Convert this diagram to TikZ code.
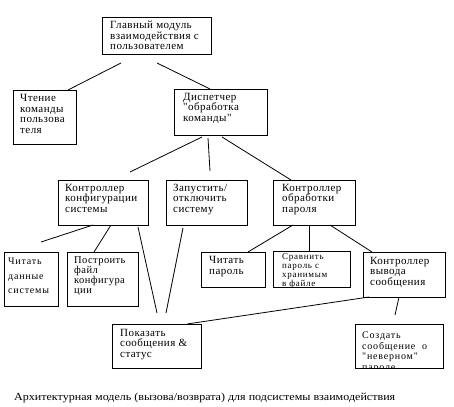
\documentclass[tikz,border=0pt]{standalone}
\usepackage{fontspec}
\setmainfont{Liberation Serif}
\newfontfamily\bigf[LetterSpace=4]{Liberation Serif}
\newfontfamily\smallf[LetterSpace=8]{Liberation Serif}
\usetikzlibrary{calc}
\begin{document}
\begin{tikzpicture}[x=1pt,y=-1pt,
  box/.style={draw=black, line width=0.9pt, rectangle, inner sep=0pt, outer sep=0pt, anchor=north west},
  txt/.style={anchor=north west, inner sep=0pt, align=left, font=\bigf\fontsize{11}{10.5}\selectfont},
  stxt/.style={anchor=north west, inner sep=0pt, align=left, font=\smallf\fontsize{10}{9.5}\selectfont},
  conn/.style={line width=0.8pt, black}]
\useasboundingbox (0,0) rectangle (454,406);
% boxes
\node[box, minimum width=109pt, minimum height=37pt] (main) at (102,17) {};
\node[txt] (maint) at ([xshift=8pt,yshift=-4pt]main.north west) {Главный модуль\\взаимодействия с\\пользователем};
\node[box, minimum width=63pt, minimum height=54pt] (chten) at (13,90) {};
\node[txt, font=\bigf\fontsize{11}{10.7}\selectfont] (chtent) at ([xshift=7pt,yshift=-4pt]chten.north west) {Чтение\\команды\\пользова\\теля};
\node[box, minimum width=93pt, minimum height=46pt] (disp) at (174,89) {};
\node[txt] (dispt) at ([xshift=9pt,yshift=-4pt]disp.north west) {Диспетчер\\"обработка\\команды"};
\node[box, minimum width=90pt, minimum height=45pt] (konf) at (58,180) {};
\node[txt] (konft) at ([xshift=7pt,yshift=-4pt]konf.north west) {Контроллер\\конфигурации\\системы};
\node[box, minimum width=81pt, minimum height=45pt] (zap) at (166,180) {};
\node[txt] (zapt) at ([xshift=7pt,yshift=-4pt]zap.north west) {Запустить/\\отключить\\систему};
\node[box, minimum width=82pt, minimum height=45pt] (parol) at (273,180) {};
\node[txt] (parolt) at ([xshift=9pt,yshift=-4pt]parol.north west) {Контроллер\\обработки\\пароля};
\node[box, minimum width=54pt, minimum height=54pt] (chdan) at (4,252) {};
\node[stxt, font=\smallf\fontsize{10}{14.5}\selectfont] (chdant) at ([xshift=4pt,yshift=-6pt]chdan.north west) {Читать\\данные\\системы};
\node[box, minimum width=71pt, minimum height=54pt] (postr) at (67,252) {};
\node[txt, font=\bigf\fontsize{10.5}{10}\selectfont] (postrt) at ([xshift=7pt,yshift=-4pt]postr.north west) {Построить\\файл\\конфигура\\ции};
\node[box, minimum width=64pt, minimum height=35pt] (chpar) at (201,252) {};
\node[txt, font=\bigf\fontsize{11}{10.7}\selectfont] (chpart) at ([xshift=8pt,yshift=-4pt]chpar.north west) {Читать\\пароль};
\node[box, minimum width=77pt, minimum height=36pt] (sravn) at (273,251) {};
\node[stxt, font=\smallf\fontsize{9}{9}\selectfont] (sravnt) at ([xshift=9pt,yshift=-2pt]sravn.north west) {Сравнить\\пароль с\\хранимым\\в файле};
\node[box, minimum width=82pt, minimum height=45pt] (vyvod) at (363,252) {};
\node[txt] (vyvodt) at ([xshift=7pt,yshift=-5pt]vyvod.north west) {Контроллер\\вывода\\сообщения};
\node[box, minimum width=89pt, minimum height=44pt] (pokaz) at (112,324) {};
\node[txt, font=\bigf\fontsize{11}{10.5}\selectfont] (pokazt) at ([xshift=8pt,yshift=-5pt]pokaz.north west) {Показать\\сообщения \&\\статус};
\node[box, minimum width=88pt, minimum height=44pt] (sozd) at (355,324) {};
\begin{scope}
\clip (sozd.north west) rectangle (sozd.south east);
\node[stxt, font=\smallf\fontsize{10}{10.5}\selectfont] (sozdt) at ([xshift=7pt,yshift=-8pt]sozd.north west) {Создать\\сообщение~~о\\"неверном"\\пароле};
\end{scope}
% caption
\node[anchor=base west, inner sep=0pt] (cap) at (14,400) {\resizebox{381pt}{7.5pt}{\fontsize{10}{10}\selectfont Архитектурная модель (вызова/возврата) для подсистемы взаимодействия}};
% free-end coordinates
\coordinate (m1) at (121,63);
\coordinate (m2) at (157,63);
\coordinate (d1a) at (202,137);
\coordinate (d1b) at (130,172);
\coordinate (d2a) at (208,138);
\coordinate (d2b) at (210,171);
\coordinate (d3a) at (222,137);
\coordinate (k1b) at (41,242);
\coordinate (k3a) at (138,227);
\coordinate (k3b) at (157,313);
\coordinate (z1a) at (183,228);
\coordinate (z1b) at (166,313);
\coordinate (v2b) at (395,315);
% connectors
\draw[conn] (m1) -- ($(chten.north west)+(55,0)$);
\draw[conn] (m2) -- ($(disp.north west)+(36,0)$);
\draw[conn] (d1a) -- (d1b);
\draw[conn] (d2a) -- (d2b);
\draw[conn] (d3a) -- ($(parol.north west)+(18,0)$);
\draw[conn] ($(konf.south west)+(35,0)$) -- (k1b);
\draw[conn] ($(konf.south west)+(53,0)$) -- ($(postr.north west)+(27,0)$);
\draw[conn] (k3a) -- (k3b);
\draw[conn] (z1a) -- (z1b);
\draw[conn] ($(parol.south west)+(20,0)$) -- ($(chpar.north west)+(47,0)$);
\draw[conn] ($(parol.south west)+(36,0)$) -- ($(sravn.north west)+(36,0)$);
\draw[conn] ($(parol.south west)+(57,0)$) -- ($(vyvod.north west)+(9,0)$);
\draw[conn] ($(vyvod.south west)+(6,0)$) -- ($(pokaz.north west)+(75,0)$);
\draw[conn] ($(vyvod.south west)+(36,0)$) -- (v2b);
\end{tikzpicture}
\end{document}
